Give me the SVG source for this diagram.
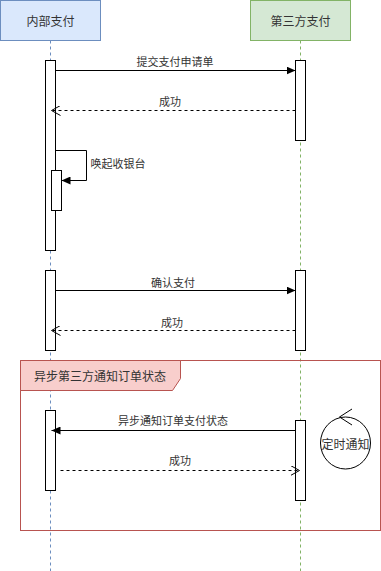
<svg xmlns="http://www.w3.org/2000/svg" width="381" height="571" viewBox="0 0 381 571">
<defs>
<style>
text{font-family:"Noto Sans CJK SC","Liberation Sans",sans-serif;fill:#333;text-anchor:middle;dominant-baseline:central}
.lbl{font-size:11px}
.big{font-size:12px}
.act{fill:#fff;stroke:#000;stroke-width:1}
.msg{fill:none;stroke:#000;stroke-width:1}
.ret{fill:none;stroke:#000;stroke-width:1;stroke-dasharray:3 3}
</style>
<marker id="block" markerWidth="10" markerHeight="8" refX="9" refY="4" orient="auto" markerUnits="userSpaceOnUse">
<path d="M0,0 L9,4 L0,8 Z" fill="#000"/>
</marker>
<marker id="open" markerWidth="10" markerHeight="10" refX="9" refY="5" orient="auto" markerUnits="userSpaceOnUse">
<path d="M0,0 L9,5 L0,10" fill="none" stroke="#000" stroke-width="1"/>
</marker>
</defs>
<rect width="381" height="571" fill="#fff"/>
<g id="lifelines">
<line x1="50.5" y1="40.5" x2="50.5" y2="571" stroke="#6c8ebf" stroke-dasharray="3 3"/>
<line x1="300.5" y1="40.5" x2="300.5" y2="571" stroke="#82b366" stroke-dasharray="3 3"/>
</g>
<g id="internal">
<rect x="0.5" y="0.5" width="100" height="40" fill="#dae8fc" stroke="#6c8ebf"/>
<text class="big" x="50.5" y="20.5">内部支付</text>
</g>
<g id="thirdparty">
<rect x="250.5" y="0.5" width="100" height="40" fill="#d5e8d4" stroke="#82b366"/>
<text class="big" x="300.5" y="20.5">第三方支付</text>
</g>
<g id="frame">
<rect x="20.5" y="360.5" width="360" height="170" fill="none" stroke="#b85450"/>
<polygon points="20.5,360.5 180.5,360.5 180.5,378.5 172.5,390.5 20.5,390.5" fill="#f8cecc" stroke="#b85450"/>
<text class="big" x="100" y="375">异步第三方通知订单状态</text>
</g>
<g id="activations">
<rect class="act" x="45.5" y="60.5" width="10" height="190"/>
<rect class="act" x="295.5" y="60.5" width="10" height="80"/>
<rect class="act" x="51.5" y="170.5" width="10" height="40"/>
<rect class="act" x="45.5" y="270.5" width="10" height="80"/>
<rect class="act" x="295.5" y="270.5" width="10" height="80"/>
<rect class="act" x="45.5" y="410.5" width="10" height="80"/>
<rect class="act" x="295.5" y="420.5" width="10" height="80"/>
</g>
<g id="control">
<ellipse cx="345.5" cy="443" rx="25" ry="26" fill="#fff" stroke="#000"/>
<path d="M352,409 L339.5,417 L352,425" fill="none" stroke="#000"/>
<text class="big" x="345.5" y="443">定时通知</text>
</g>
<g id="connectors">
<line class="msg" x1="55.5" y1="70.5" x2="295.5" y2="70.5" marker-end="url(#block)"/>
<line class="ret" x1="295.5" y1="110.5" x2="51.5" y2="110.5" marker-end="url(#open)"/>
<polyline class="msg" points="55.5,150.5 86.5,150.5 86.5,180.5 61.5,180.5" marker-end="url(#block)"/>
<line class="msg" x1="55.5" y1="290.5" x2="295.5" y2="290.5" marker-end="url(#block)"/>
<line class="ret" x1="295.5" y1="330.5" x2="51.5" y2="330.5" marker-end="url(#open)"/>
<line class="msg" x1="295.5" y1="430.5" x2="51.5" y2="430.5" marker-end="url(#block)"/>
<line class="ret" x1="60.5" y1="470.5" x2="299.5" y2="470.5" marker-end="url(#open)"/>
</g>
<g id="labels">
<text class="lbl" x="175" y="61">提交支付申请单</text>
<text class="lbl" x="170" y="101">成功</text>
<text class="lbl" x="118" y="163" style="text-anchor:middle">唤起收银台</text>
<text class="lbl" x="173" y="282">确认支付</text>
<text class="lbl" x="172" y="322">成功</text>
<text class="lbl" x="173" y="420">异步通知订单支付状态</text>
<text class="lbl" x="180" y="460">成功</text>
</g>
</svg>
